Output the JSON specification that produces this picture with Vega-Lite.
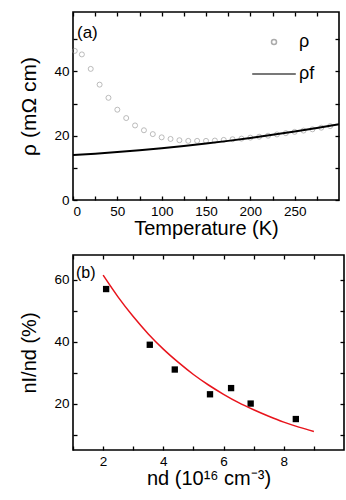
{
  "$schema": "https://vega.github.io/schema/vega-lite/v6.json",
  "padding": {"left": 18, "top": 10, "right": 4, "bottom": 4},
  "background": "white",
  "spacing": 13,
  "resolve": {"legend": {"color": "independent", "shape": "independent", "size": "independent"}},
  "config": {
    "view": {"stroke": "black", "strokeWidth": 1.6},
    "font": "Liberation Sans",
    "axis": {
      "labelFont": "Liberation Sans", "titleFont": "Liberation Sans",
      "labelFontSize": 13.5, "titleFontSize": 20, "titleFontWeight": "normal",
      "labelColor": "black", "titleColor": "black", "tickColor": "black",
      "tickWidth": 1.3, "tickSize": -4, "domain": false, "grid": false, "labelPadding": 8
    },
    "legend": {"labelFont": "Liberation Sans", "labelFontSize": 18, "labelColor": "black"}
  },
  "vconcat": [
    {
      "width": 266, "height": 188,
      "title": {"text": "(a)", "anchor": "start", "frame": "group", "offset": -31, "dx": 4, "fontSize": 17, "fontWeight": "normal", "font": "Liberation Sans", "color": "black"},
      "layer": [
        {
          "data": {"values": [
            {"T": 2, "rho": 46.4}, {"T": 10, "rho": 45.3}, {"T": 20, "rho": 40.8}, {"T": 30, "rho": 35.9},
            {"T": 40, "rho": 31.8}, {"T": 50, "rho": 28.1}, {"T": 60, "rho": 25.5}, {"T": 70, "rho": 23.2},
            {"T": 80, "rho": 21.7}, {"T": 90, "rho": 20.5}, {"T": 100, "rho": 19.5}, {"T": 110, "rho": 19.0},
            {"T": 120, "rho": 18.6}, {"T": 130, "rho": 18.4}, {"T": 140, "rho": 18.4}, {"T": 150, "rho": 18.4},
            {"T": 160, "rho": 18.5}, {"T": 170, "rho": 18.7}, {"T": 180, "rho": 18.9}, {"T": 190, "rho": 19.1},
            {"T": 200, "rho": 19.4}, {"T": 210, "rho": 19.7}, {"T": 220, "rho": 20.0}, {"T": 230, "rho": 20.4},
            {"T": 240, "rho": 20.8}, {"T": 250, "rho": 21.2}, {"T": 260, "rho": 21.6}, {"T": 270, "rho": 22.0},
            {"T": 280, "rho": 22.5}, {"T": 290, "rho": 23.0}
          ]},
          "mark": {"type": "point", "shape": "circle", "filled": false, "strokeWidth": 0.8},
          "encoding": {
            "x": {"field": "T", "type": "quantitative", "scale": {"domain": [0, 300], "nice": false},
                  "axis": {"orient": "bottom", "title": "Temperature (K)", "values": [0,25,50,75,100,125,150,175,200,225,250,275],
                           "labelExpr": "datum.value % 50 === 0 ? datum.label : ''", "titlePadding": 1}},
            "y": {"field": "rho", "type": "quantitative", "scale": {"domain": [0, 58.5], "nice": false},
                  "axis": {"orient": "left", "title": "ρ (mΩ cm)", "titleFontSize": 21, "values": [0,10,20,30,40,50],
                           "labelExpr": "datum.value % 20 === 0 ? datum.label : ''", "titlePadding": 14}},
            "color": {"datum": "ρ", "scale": {"domain": ["ρ", "ρf"], "range": ["#888888", "#000000"]},
                      "legend": {"title": null, "orient": "none", "legendX": 178, "legendY": 21, "symbolStrokeWidth": 1.5, "rowPadding": -10, "labelOffset": 2}},
            "shape": {"datum": "ρ", "scale": {"domain": ["ρ", "ρf"], "range": ["circle", "stroke"]}},
            "size": {"datum": "ρ", "scale": {"domain": ["ρ", "ρf"], "range": [25, 1900]}}
          }
        },
        {
          "data": {"values": [
            {"T": 0, "rho": 14.0}, {"T": 25, "rho": 14.42}, {"T": 50, "rho": 14.91}, {"T": 75, "rho": 15.47},
            {"T": 100, "rho": 16.1}, {"T": 125, "rho": 16.8}, {"T": 150, "rho": 17.56}, {"T": 175, "rho": 18.4},
            {"T": 200, "rho": 19.3}, {"T": 225, "rho": 20.27}, {"T": 250, "rho": 21.31}, {"T": 275, "rho": 22.42},
            {"T": 300, "rho": 23.6}
          ]},
          "mark": {"type": "line", "strokeWidth": 2, "interpolate": "monotone"},
          "encoding": {
            "x": {"field": "T", "type": "quantitative",
                  "axis": {"orient": "top", "title": null, "labels": false, "values": [0,25,50,75,100,125,150,175,200,225,250,275]}},
            "y": {"field": "rho", "type": "quantitative",
                  "axis": {"orient": "right", "title": null, "labels": false, "values": [0,10,20,30,40,50]}},
            "color": {"datum": "ρf"}
          }
        }
      ],
      "resolve": {"axis": {"x": "independent", "y": "independent"}}
    },
    {
      "width": 271, "height": 195,
      "title": {"text": "(b)", "anchor": "start", "frame": "group", "offset": -27, "dx": 3, "fontSize": 16, "fontWeight": "normal", "font": "Liberation Sans", "color": "black"},
      "layer": [
        {
          "data": {"values": [
            {"nd": 2.1, "ratio": 57}, {"nd": 3.55, "ratio": 39}, {"nd": 4.38, "ratio": 31},
            {"nd": 5.55, "ratio": 23}, {"nd": 6.25, "ratio": 25}, {"nd": 6.9, "ratio": 20}, {"nd": 8.4, "ratio": 15}
          ]},
          "mark": {"type": "square", "color": "black", "opacity": 1, "size": 40},
          "encoding": {
            "x": {"field": "nd", "type": "quantitative", "scale": {"domain": [1, 10], "nice": false},
                  "axis": {"orient": "bottom", "title": "nd (10¹⁶ cm⁻³)", "values": [1,2,3,4,5,6,7,8,9],
                           "labelExpr": "datum.value % 2 === 0 ? datum.label : ''", "titlePadding": 1}},
            "y": {"field": "ratio", "type": "quantitative", "scale": {"domain": [5, 68], "nice": false},
                  "axis": {"orient": "left", "title": "nI/nd (%)", "values": [10,20,30,40,50,60],
                           "labelExpr": "datum.value % 20 === 0 ? datum.label : ''", "titlePadding": 14}}
          }
        },
        {
          "data": {"values": [
            {"nd": 2.0, "ratio": 61.5}, {"nd": 2.5, "ratio": 54.4}, {"nd": 3.0, "ratio": 48.1}, {"nd": 3.5, "ratio": 42.5},
            {"nd": 4.0, "ratio": 37.6}, {"nd": 4.5, "ratio": 33.3}, {"nd": 5.0, "ratio": 29.4}, {"nd": 5.5, "ratio": 26.0},
            {"nd": 6.0, "ratio": 23.0}, {"nd": 6.5, "ratio": 20.3}, {"nd": 7.0, "ratio": 18.0}, {"nd": 7.5, "ratio": 15.9},
            {"nd": 8.0, "ratio": 14.0}, {"nd": 8.5, "ratio": 12.4}, {"nd": 9.0, "ratio": 11.0}
          ]},
          "mark": {"type": "line", "color": "#e8141c", "strokeWidth": 1.5, "interpolate": "monotone"},
          "encoding": {
            "x": {"field": "nd", "type": "quantitative",
                  "axis": {"orient": "top", "title": null, "labels": false, "values": [1,2,3,4,5,6,7,8,9]}},
            "y": {"field": "ratio", "type": "quantitative",
                  "axis": {"orient": "right", "title": null, "labels": false, "values": [10,20,30,40,50,60]}}
          }
        }
      ],
      "resolve": {"axis": {"x": "independent", "y": "independent"}}
    }
  ]
}
